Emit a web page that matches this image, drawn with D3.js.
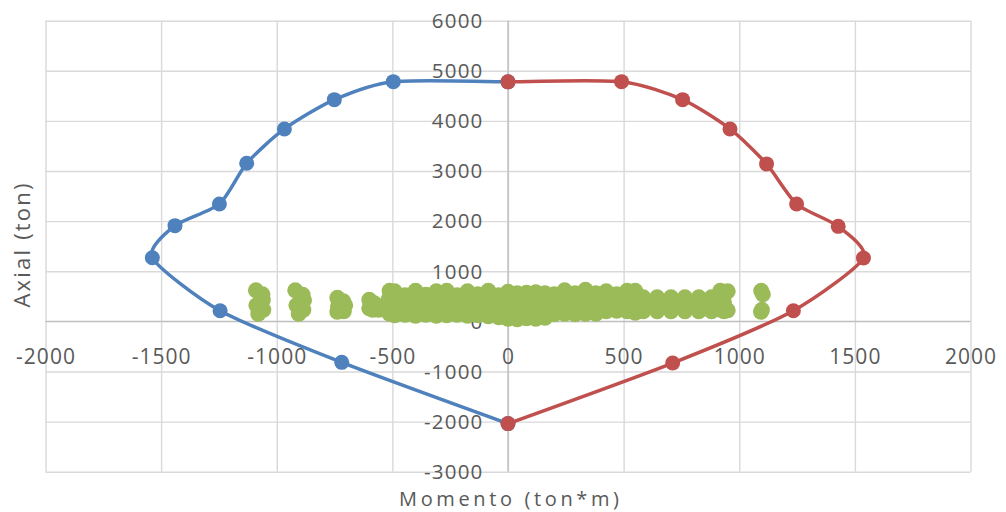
<!DOCTYPE html>
<html><head><meta charset="utf-8">
<script src="https://cdn.jsdelivr.net/npm/d3@7"></script>
<style>body{margin:0;background:#fff;overflow:hidden}</style>
</head><body><svg id="c" width="1006" height="512"></svg>
<script>
const xTicks = [-2000,-1500,-1000,-500,0,500,1000,1500,2000];
const yTicks = [-3000,-2000,-1000,0,1000,2000,3000,4000,5000,6000];
const xTitle = "Momento (ton*m)";
const yTitle = "Axial (ton)";

// Negative-moment branch of the interaction diagram (blue)
const negMoment = [0,-496,-751,-967,-1130,-1248,-1440,-1538,-1245,-719,0];
const negAxial  = [4780,4784,4425,3840,3154,2343,1910,1270,213,-818,-2040];
// Positive-moment branch (red)
const posMoment = [0,491,755,960,1118,1248,1428,1537,1234,712,0];
const posAxial  = [4780,4784,4425,3840,3142,2343,1896,1265,213,-831,-2040];

// Demand points (green): [moment, axial]
const demandPoints = [
  [-1090,620],[-1062,540],[-1060,430],[-1088,320],[-1058,230],[-1080,150],
  [-920,620],[-888,530],[-882,420],[-915,320],[-885,230],[-905,150],
  [-738,470],[-712,400],[-704,320],[-735,300],[-710,200],[-738,190],
  [-600,430],[-578,360],[-558,300],[-600,260],[-560,230],[-585,230],
  [-512,610],[-515,450],[-510,300],[-512,150],
  [-490,600],[-490,420],[-490,250],[-490,120],
  [-445,520],[-445,400],[-445,240],[-445,130],
  [-400,610],[-400,430],[-400,260],[-400,110],
  [-355,530],[-355,410],[-355,240],[-355,130],
  [-310,600],[-310,430],[-310,250],[-310,110],
  [-265,610],[-265,420],[-265,240],[-265,120],
  [-220,520],[-220,400],[-220,250],[-220,130],
  [-175,600],[-175,430],[-175,240],[-175,110],
  [-130,540],[-130,410],[-130,260],[-130,120],
  [-85,610],[-85,430],[-85,240],[-85,100],
  [-40,520],[-40,410],[-40,230],[-40,80],
  [0,590],[0,420],[0,240],[0,50],
  [40,560],[40,400],[40,220],[40,40],
  [80,570],[80,420],[80,230],[80,60],
  [120,580],[120,410],[120,220],[120,50],
  [160,560],[160,420],[160,240],[160,70],
  [200,540],[200,400],[200,260],[200,140],
  [245,620],[245,440],[245,270],[245,150],
  [290,560],[290,410],[290,260],[290,140],
  [335,630],[335,450],[335,280],[335,150],
  [380,560],[380,420],[380,270],[380,150],
  [425,600],[425,430],[425,290],[425,200],
  [470,540],[470,400],[470,300],[470,210],
  [515,610],[515,470],[515,250],[515,200],
  [550,610],[550,450],[550,300],[550,170],
  [585,480],[645,480],[705,480],[765,480],[825,480],[880,480],
  [615,340],[675,340],[735,340],[795,340],[855,340],
  [585,200],[645,200],[705,200],[765,200],[825,200],[880,200],
  [918,610],[950,600],[934,530],[934,380],[920,230],[950,220],[934,200],
  [1095,610],[1102,540],[1098,230],[1094,190]
];

const colNeg = "#4F81BD", colPos = "#C0504D", colDem = "#9BBB59";
const textCol = "#595959";
const font = "'Open Sans', 'Liberation Sans', sans-serif";
const fmt = d => String(d);

const svg = d3.select("#c");
svg.append("rect").attr("width",1006).attr("height",512).attr("fill","#fff");

const x = d3.scaleLinear().domain([-2000,2000]).range([45.5,970.5]);
const y = d3.scaleLinear().domain([-3000,6000]).range([471.7,20.7]);

// gridlines
const gx = svg.append("g").attr("transform",`translate(0,${y(-3000)})`)
  .call(d3.axisBottom(x).tickValues(xTicks).tickSize(-(y(-3000)-y(6000))).tickFormat(""));
gx.select(".domain").remove();
gx.selectAll("line").attr("stroke","#d9d9d9").attr("stroke-width",1.4);
const gy = svg.append("g").attr("transform",`translate(${x(-2000)},0)`)
  .call(d3.axisLeft(y).tickValues(yTicks).tickSize(-(x(2000)-x(-2000))).tickFormat(""));
gy.select(".domain").remove();
gy.selectAll("line").attr("stroke","#d9d9d9").attr("stroke-width",1.4);

// axis lines through origin
svg.append("line").attr("x1",x(0)).attr("x2",x(0)).attr("y1",y(6000)).attr("y2",y(-3000))
  .attr("stroke","#bfbfbf").attr("stroke-width",1.4);
svg.append("line").attr("x1",x(-2000)).attr("x2",x(2000)).attr("y1",y(0)).attr("y2",y(0))
  .attr("stroke","#bfbfbf").attr("stroke-width",1.4);

// tick labels
const ax = svg.append("g").attr("transform",`translate(0,${y(0)})`)
  .call(d3.axisBottom(x).tickValues(xTicks).tickSize(0).tickPadding(27.5).tickFormat(fmt));
ax.select(".domain").remove();
ax.selectAll("text").attr("fill",textCol).style("font-family",font).style("font-size","21px").style("letter-spacing","1px");
const ay = svg.append("g").attr("transform",`translate(${x(0)},0)`)
  .call(d3.axisLeft(y).tickValues(yTicks).tickSize(0).tickPadding(24.5).tickFormat(fmt));
ay.select(".domain").remove();
ay.selectAll("text").attr("fill",textCol).attr("dy","0.33em").style("font-family",font).style("font-size","20.5px").style("letter-spacing","1.2px");

// titles
svg.append("text").attr("x",509).attr("y",506).attr("text-anchor","middle")
  .attr("fill",textCol).style("font-family",font).style("font-size","20px")
  .attr("textLength",220).attr("lengthAdjust","spacing").text(xTitle);
svg.append("text").attr("transform","translate(30,245.5) rotate(-90)").attr("text-anchor","middle")
  .attr("fill",textCol).style("font-family",font).style("font-size","22px")
  .attr("textLength",124).attr("lengthAdjust","spacing").text(yTitle);

// demand points
svg.append("g").selectAll("circle").data(demandPoints).join("circle")
  .attr("cx",d=>x(d[0])).attr("cy",d=>y(d[1])).attr("r",8).attr("fill",colDem);

const line = d3.line().x(d=>x(d[0])).y(d=>y(d[1])).curve(d3.curveCardinal.tension(0.3));
function drawSeries(ms, ps, col){
  const pts = ms.map((m,i)=>[m, ps[i]]);
  svg.append("path").datum(pts).attr("d",line).attr("fill","none")
    .attr("stroke",col).attr("stroke-width",3.5).attr("stroke-linejoin","round");
  svg.append("g").selectAll("circle").data(pts).join("circle")
    .attr("cx",d=>x(d[0])).attr("cy",d=>y(d[1])).attr("r",7.5).attr("fill",col);
}
drawSeries(negMoment, negAxial, colNeg);
drawSeries(posMoment, posAxial, colPos);
</script></body></html>
